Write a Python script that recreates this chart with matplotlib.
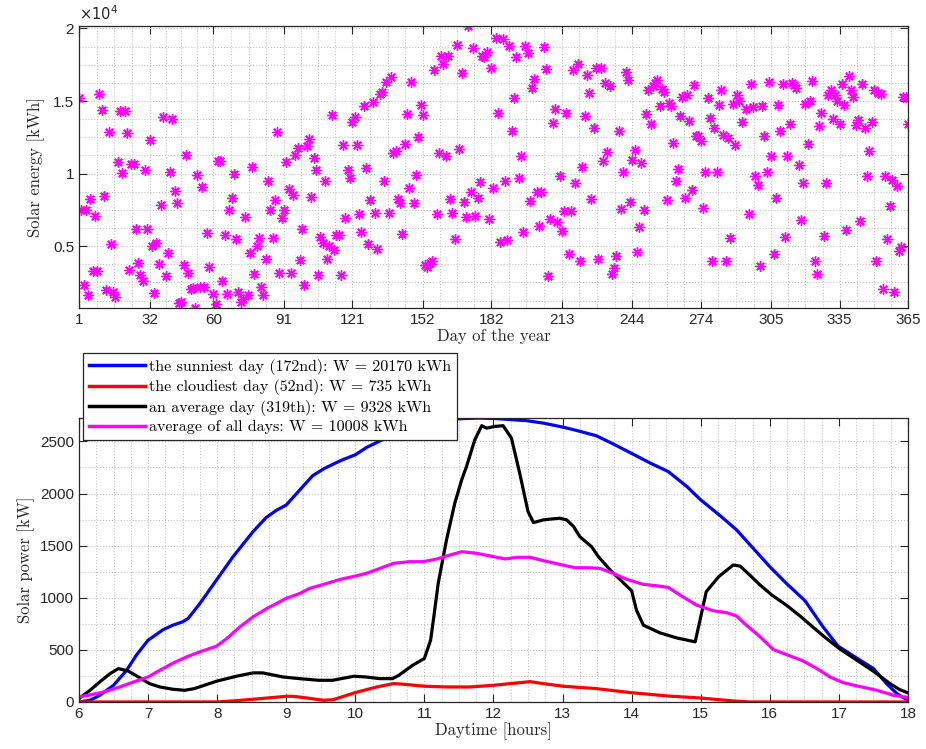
import matplotlib
matplotlib.use('Agg')
from matplotlib import pyplot as plt
from matplotlib.ticker import FixedLocator, MultipleLocator, FuncFormatter
import numpy as np

# Dnevna proizvedena energija [kWh] za dane u godini
day = [1, 2, 3, 4, 5, 6, 7, 8, 9, 10, 11, 12, 13, 14, 15, 16, 17, 18, 19, 20,
       21, 22, 23, 24, 25, 26, 27, 28, 29, 30, 31, 32, 33, 34, 35, 36, 37, 38, 39, 40,
       41, 42, 43, 44, 45, 46, 47, 48, 49, 50, 51, 52, 53, 54, 55, 56, 57, 58, 60, 61,
       62, 63, 64, 65, 66, 67, 68, 69, 70, 71, 72, 73, 74, 75, 76, 77, 78, 79, 80, 81,
       82, 83, 84, 85, 86, 87, 88, 89, 90, 91, 92, 93, 94, 95, 96, 97, 98, 99, 100, 101,
       102, 103, 104, 105, 106, 107, 108, 109, 110, 111, 112, 113, 114, 115, 116, 117, 118, 119, 120, 121,
       122, 123, 124, 125, 126, 127, 128, 129, 130, 131, 132, 133, 134, 135, 136, 137, 138, 139, 140, 141,
       142, 143, 144, 145, 146, 147, 148, 149, 150, 151, 152, 153, 154, 155, 156, 157, 158, 159, 160, 161,
       162, 163, 164, 165, 166, 167, 168, 169, 170, 171, 172, 173, 174, 175, 176, 177, 178, 179, 180, 181,
       182, 183, 184, 185, 186, 187, 188, 189, 190, 191, 192, 193, 194, 195, 196, 197, 198, 199, 200, 201,
       202, 203, 204, 205, 206, 207, 208, 209, 210, 211, 212, 213, 214, 215, 216, 217, 218, 219, 220, 221,
       222, 223, 224, 225, 226, 227, 228, 229, 230, 231, 232, 233, 234, 235, 236, 237, 238, 239, 240, 241,
       242, 243, 244, 245, 246, 247, 248, 249, 250, 251, 252, 253, 254, 255, 256, 257, 258, 259, 260, 261,
       262, 263, 264, 265, 266, 267, 268, 269, 270, 271, 272, 273, 274, 275, 276, 277, 278, 279, 280, 281,
       282, 283, 284, 285, 286, 287, 288, 289, 290, 291, 292, 294, 295, 296, 297, 298, 299, 300, 301, 302,
       303, 304, 305, 306, 307, 308, 309, 310, 311, 312, 313, 314, 315, 316, 317, 318, 319, 320, 321, 322,
       323, 324, 325, 326, 327, 328, 329, 330, 331, 332, 333, 334, 335, 336, 337, 338, 339, 340, 341, 342,
       343, 344, 345, 346, 347, 348, 349, 350, 351, 352, 353, 354, 355, 356, 357, 358, 359, 360, 361, 362,
       363, 364, 365]
energy = [15240, 7490, 2340, 7490, 1650, 8260, 3300, 7100, 3300, 15490, 14350, 8450, 1970, 12860, 5170, 1810, 1510, 10830, 14300, 10050,
          14300, 12790, 3370, 10690, 10640, 6160, 3820, 3000, 2610, 10230, 6160, 12290, 5010, 1790, 5240, 3800, 7810, 13870, 2910, 4510,
          10120, 13780, 8790, 7940, 1060, 1120, 3710, 11310, 3120, 2040, 2090, 735, 9890, 2180, 9090, 2180, 5930, 3530, 1700, 1010,
          10890, 10890, 2610, 5750, 1700, 7490, 8330, 10000, 5520, 1810, 1120, 1350, 7030, 1630, 4510, 10460, 3070, 5010, 5590, 2150,
          1630, 4100, 9480, 7490, 5590, 8150, 12860, 3120, 6960, 7490, 10780, 8950, 3180, 8490, 11260, 11760, 4030, 6160, 2340, 11920,
          12380, 8380, 11080, 10230, 3020, 5660, 5240, 9480, 4100, 5010, 14070, 4740, 5770, 5770, 3000, 11990, 6960, 10230, 9660, 13570,
          13910, 11990, 7190, 5980, 14690, 10350, 5130, 8150, 14920, 7300, 4830, 15490, 15650, 9480, 16340, 7300, 16640, 11420, 11540, 8260,
          7990, 5820, 12060, 14100, 9020, 16340, 7940, 9930, 12500, 14740, 14010, 3710, 3570, 3870, 3990, 17140, 7190, 11420, 18100, 17550,
          11190, 18100, 8220, 7300, 5520, 18860, 11720, 16910, 8030, 7030, 20170, 8740, 18630, 7070, 8330, 9410, 18100, 18060, 18400, 6840,
          17300, 9020, 19360, 14170, 5290, 19270, 9480, 5430, 18810, 12950, 15240, 18010, 9660, 11240, 6000, 18790, 18280, 8100, 15880, 16500,
          8720, 6390, 8720, 18700, 17210, 2950, 6840, 13480, 14440, 6660, 9820, 6040, 7420, 14170, 4490, 7420, 17140, 9320, 17550, 3980,
          10440, 13940, 16800, 15540, 8220, 13140, 17250, 4100, 17300, 10890, 16230, 11470, 16000, 3110, 3460, 4330, 12950, 7580, 10090, 17030,
          16450, 8060, 10960, 11600, 4600, 6320, 10730, 7460, 14120, 15770, 13410, 16040, 16230, 16450, 14670, 15810, 15650, 8150, 14850, 14670,
          12110, 9480, 10320, 13940, 15310, 8290, 15420, 13590, 8860, 16110, 12560, 12560, 12220, 7600, 10120, 15240, 13820, 3980, 13140, 10120,
          14740, 15770, 12680, 3980, 12450, 5590, 14810, 11990, 15380, 15010, 13530, 14440, 7190, 16160, 14580, 9820, 9180, 3640, 14670, 12610,
          10090, 16340, 11240, 4440, 8330, 14740, 12950, 16180, 5660, 11240, 13430, 16230, 16110, 15880, 10570, 6800, 9328, 14810, 12040, 14970,
          16390, 3940, 3070, 13300, 14170, 5700, 9360, 15420, 15770, 13750, 15380, 15010, 13430, 16180, 14740, 6110, 16750, 15770, 15310, 13370,
          13710, 6730, 16160, 13140, 9860, 11530, 13550, 15770, 3980, 15540, 15470, 2040, 9860, 5470, 7760, 9590, 1810, 9130, 4670, 4970,
          15310, 15310, 13430]
month_ticks = [1, 32, 60, 91, 121, 152, 182, 213, 244, 274, 305, 335, 365]

# Izabrani dani
sunny_day, cloudy_day, avg_day = 172, 52, 319
w_all = 10008

# Dnevni profili snage [kW]
t_sunny = [6.0, 6.16, 6.3, 6.5, 6.69, 6.83, 7.0, 7.07, 7.22, 7.36, 7.5, 7.58, 7.75, 7.99, 8.23, 8.52, 8.71,
           8.86, 9.0, 9.19, 9.38, 9.55, 9.79, 10.0, 10.17, 10.41, 10.65, 10.9, 11.15, 11.37, 11.52, 11.76,
           12.0, 12.48, 12.72, 13.0, 13.2, 13.49, 13.73, 14.02, 14.27, 14.53, 14.8, 14.99, 15.28, 15.52,
           15.76, 16.0, 16.24, 16.51, 16.77, 16.99, 17.23, 17.5, 17.69, 17.84, 18.0]
p_sunny = [0, 16, 64, 160, 304, 449, 593, 625, 695, 737, 769, 801, 945, 1170, 1394, 1635, 1770,
           1840, 1890, 2030, 2170, 2240, 2317, 2372, 2445, 2522, 2580, 2640, 2690, 2708, 2718, 2724,
           2721, 2699, 2676, 2638, 2606, 2554, 2477, 2378, 2292, 2211, 2067, 1945, 1788, 1651,
           1474, 1298, 1138, 971, 721, 535, 433, 321, 176, 80, 16]
t_cloudy = [6.0, 8.0, 8.23, 8.52, 9.0, 9.1, 9.25, 9.54, 9.68, 10.0, 10.31, 10.55, 10.7, 11.0, 11.32,
            11.66, 12.0, 12.24, 12.53, 12.72, 13.01, 13.49, 13.98, 14.51, 14.99, 15.47, 15.71, 18.0]
p_cloudy = [0, 0, 10, 26, 54, 54, 42, 16, 22, 90, 144, 176, 170, 151, 144,
            144, 160, 176, 195, 176, 151, 128, 90, 58, 38, 10, 0, 0]
t_avg = [6.0, 6.16, 6.3, 6.45, 6.57, 6.71, 6.86, 7.02, 7.17, 7.36, 7.53, 7.67, 7.99, 8.28, 8.52, 8.66,
         8.95, 9.19, 9.47, 9.67, 9.98, 10.15, 10.35, 10.54, 10.63, 10.83, 11.0, 11.09, 11.13, 11.2,
         11.32, 11.44, 11.54, 11.61, 11.73, 11.83, 11.9, 12.02, 12.14, 12.26, 12.38, 12.5, 12.58,
         12.72, 12.84, 12.96, 13.06, 13.16, 13.25, 13.42, 13.52, 13.69, 13.88, 14.0, 14.07, 14.17,
         14.41, 14.65, 14.92, 14.99, 15.08, 15.26, 15.47, 15.57, 15.71, 15.86, 16.03, 16.24, 16.44,
         16.63, 16.82, 17.02, 17.26, 17.5, 17.74, 17.88, 18.0]
p_avg = [32, 112, 192, 272, 320, 298, 240, 176, 144, 122, 112, 128, 199, 247, 279, 279,
         240, 224, 208, 208, 247, 240, 224, 224, 256, 352, 417, 593, 785, 1138,
         1554, 1907, 2131, 2260, 2516, 2651, 2628, 2644, 2651, 2532, 2195, 1827, 1721,
         1747, 1756, 1763, 1747, 1683, 1586, 1490, 1394, 1266, 1144, 1067, 881, 737,
         663, 615, 577, 785, 1058, 1202, 1314, 1304, 1218, 1122, 1026, 929, 824,
         715, 609, 506, 401, 295, 176, 119, 87]
t_all = [6.0, 6.21, 6.4, 6.59, 6.79, 7.0, 7.17, 7.37, 7.56, 7.75, 7.99, 8.14, 8.33, 8.52, 8.72, 8.86,
         9.0, 9.2, 9.34, 9.54, 9.78, 10.0, 10.16, 10.36, 10.55, 10.79, 10.98, 11.18, 11.37, 11.54,
         11.76, 12.0, 12.17, 12.34, 12.53, 12.72, 12.96, 13.18, 13.35, 13.54, 13.73, 13.93, 14.17,
         14.36, 14.53, 14.7, 14.94, 15.18, 15.38, 15.52, 15.66, 15.86, 16.05, 16.2, 16.48, 16.68,
         16.87, 17.06, 17.26, 17.55, 17.79, 18.0]
p_all = [48, 74, 103, 144, 192, 240, 304, 375, 433, 481, 535, 609, 721, 817, 897, 945,
         994, 1042, 1090, 1128, 1176, 1208, 1234, 1282, 1330, 1346, 1346, 1372, 1410, 1442,
         1426, 1394, 1372, 1388, 1388, 1356, 1320, 1288, 1288, 1282, 1234, 1176, 1128,
         1115, 1099, 1026, 929, 875, 856, 824, 737, 625, 503, 465, 394, 321,
         240, 186, 154, 112, 64, 42]

plt.rcParams['font.family'] = 'Liberation Sans'
plt.rcParams['font.size'] = 11
dark = '#262626'
serif = 'cmr10'

def style(ax):
    ax.tick_params(which='both', direction='in', top=True, right=True, colors=dark,
                   labelcolor=dark, labelsize=11)
    ax.tick_params(which='major', length=6, width=0.8)
    ax.tick_params(which='minor', length=0)
    ax.grid(True, which='both', ls=':', color='#c4c4c4', lw=0.8)
    ax.set_axisbelow(True)
    for s in ax.spines.values():
        s.set_color(dark)
        s.set_linewidth(0.9)

energy_of = dict(zip(day, energy))

fig = plt.figure(figsize=(9.26, 7.49), dpi=100)

# Energija po danima
ax1 = fig.add_axes([0.0853, 0.5888, 0.8952, 0.3765])
ax1.plot(day, energy, ls='none', marker=(8, 2, 0), ms=7.5, mew=1.0, color='#ff00ff')
ax1.set_xlim(1, 365)
ax1.set_ylim(min(energy), max(energy))
ax1.xaxis.set_major_locator(FixedLocator(month_ticks))
minor_x = [a + (b - a) * k / 4 for a, b in zip(month_ticks[:-1], month_ticks[1:]) for k in (1, 2, 3)]
ax1.xaxis.set_minor_locator(FixedLocator(minor_x))
ax1.yaxis.set_major_locator(MultipleLocator(5000))
ax1.yaxis.set_minor_locator(MultipleLocator(1250))
ax1.yaxis.set_major_formatter(FuncFormatter(lambda v, p: f'{v / 1e4:g}'))
style(ax1)
ax1.text(0.0, 1.012, r'$\times 10^{4}$', transform=ax1.transAxes, ha='left', va='bottom',
         fontsize=10.5, color=dark)
ax1.set_xlabel('Day of the year', fontfamily=serif, fontsize=12, color=dark, labelpad=1)
ax1.set_ylabel('Solar energy [kWh]', fontfamily=serif, fontsize=12, color=dark, labelpad=6)

# Dnevni profili snage
ax2 = fig.add_axes([0.0853, 0.0628, 0.8952, 0.379])
lbl = [f'the sunniest day ({sunny_day}nd): W = {energy_of[sunny_day]} kWh',
       f'the cloudiest day ({cloudy_day}nd): W = {energy_of[cloudy_day]} kWh',
       f'an average day ({avg_day}th): W = {energy_of[avg_day]} kWh',
       f'average of all days: W = {w_all} kWh']
ax2.plot(t_sunny, p_sunny, color='#0000ff', lw=2.3, label=lbl[0])
ax2.plot(t_cloudy, p_cloudy, color='#ff0000', lw=2.3, label=lbl[1])
ax2.plot(t_avg, p_avg, color='#000000', lw=2.3, label=lbl[2])
ax2.plot(t_all, p_all, color='#ff00ff', lw=2.3, label=lbl[3])
ax2.set_xlim(6, 18)
ax2.set_ylim(0, max(p_sunny))
ax2.xaxis.set_major_locator(MultipleLocator(1))
ax2.xaxis.set_minor_locator(MultipleLocator(0.25))
ax2.yaxis.set_major_locator(MultipleLocator(500))
ax2.yaxis.set_minor_locator(MultipleLocator(250))
style(ax2)
ax2.set_xlabel('Daytime [hours]', fontfamily=serif, fontsize=12, color=dark, labelpad=1)
ax2.set_ylabel('Solar power [kW]', fontfamily=serif, fontsize=12, color=dark, labelpad=4)
leg = ax2.legend(loc='upper left', bbox_to_anchor=(0.005, 1.229), borderaxespad=0,
                 prop={'family': serif, 'size': 11.5}, handlelength=3.5, handletextpad=0.3,
                 labelspacing=0.28, borderpad=0.35, fancybox=False, framealpha=1)
leg.get_frame().set_edgecolor(dark)
leg.get_frame().set_linewidth(0.9)
for h in leg.get_lines():
    h.set_linewidth(2.5)

plt.savefig('out.png', dpi=100)
